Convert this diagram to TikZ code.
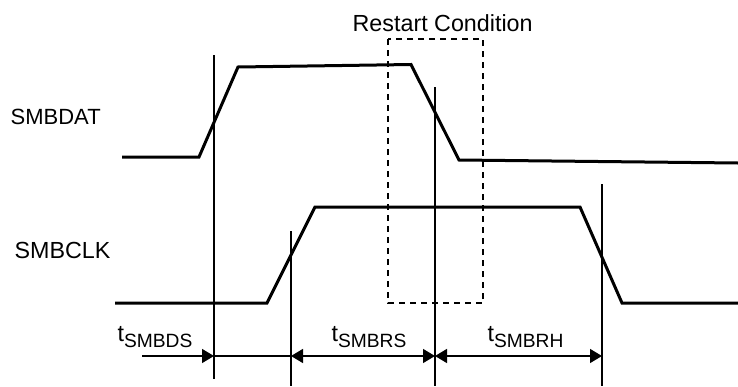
\documentclass[tikz,border=0pt]{standalone}
\usepackage{fontspec}
\setmainfont{Liberation Sans}
\usetikzlibrary{arrows.meta}

\newcommand{\tlabel}[1]{t\raisebox{-6pt}{\fontsize{19.2}{19.2}\selectfont #1}}

\begin{document}
\begin{tikzpicture}[x=1pt, y=-1pt, line width=1.3pt,
    font=\fontsize{23.3}{26}\selectfont,
    >={Triangle[length=12pt, width=14pt]},
    signal/.style={line width=3pt, line join=miter},
    window/.style={line width=1.3pt, dash pattern=on 6pt off 5pt},
    lbl/.style={anchor=base west, inner sep=0pt}]
      \useasboundingbox (0,0) rectangle (738,386);

      % signal names
      \node[lbl, font=\fontsize{22}{24}\selectfont] (dat) at (10,124) {SMBDAT};
      \node[lbl] (clk) at (14,258) {SMBCLK};
      \node[lbl] (restart) at (352,31) {Restart Condition};

      % restart window
      \draw[window] (388,39) rectangle (483,303);

      % waveforms
      \draw[signal] (122,157) -- (199,157) -- (238,67) -- (411,64.5) -- (459,160) -- (738,163);

      \draw[signal] (115,303) -- (267,303) -- (315,207) -- (580,207) -- (622,303) -- (738,303);

      % reference lines
      \coordinate (ds) at (214,356);
      \coordinate (rs) at (291,356);
      \coordinate (rr) at (435,356);
      \coordinate (rh) at (602,356);
      \coordinate (start) at (142,356);

      \draw (214,55) -- (214,379);
      \draw (291,231) -- (291,386);
      \draw (435,87) -- (435,386);
      \draw (602,184) -- (602,386);

      % timing arrows
      \draw[->] (start) -- (ds);
      \draw (ds) -- (rs);
      \draw[<->] (rs) -- (rr);
      \draw[<->] (rr) -- (rh);

      \node[lbl] (tds) at (117,341) {\tlabel{SMBDS}};
      \node[lbl] (trs) at (331,341) {\tlabel{SMBRS}};
      \node[lbl] (trh) at (487,341) {\tlabel{SMBRH}};
    \end{tikzpicture}
\end{document}
